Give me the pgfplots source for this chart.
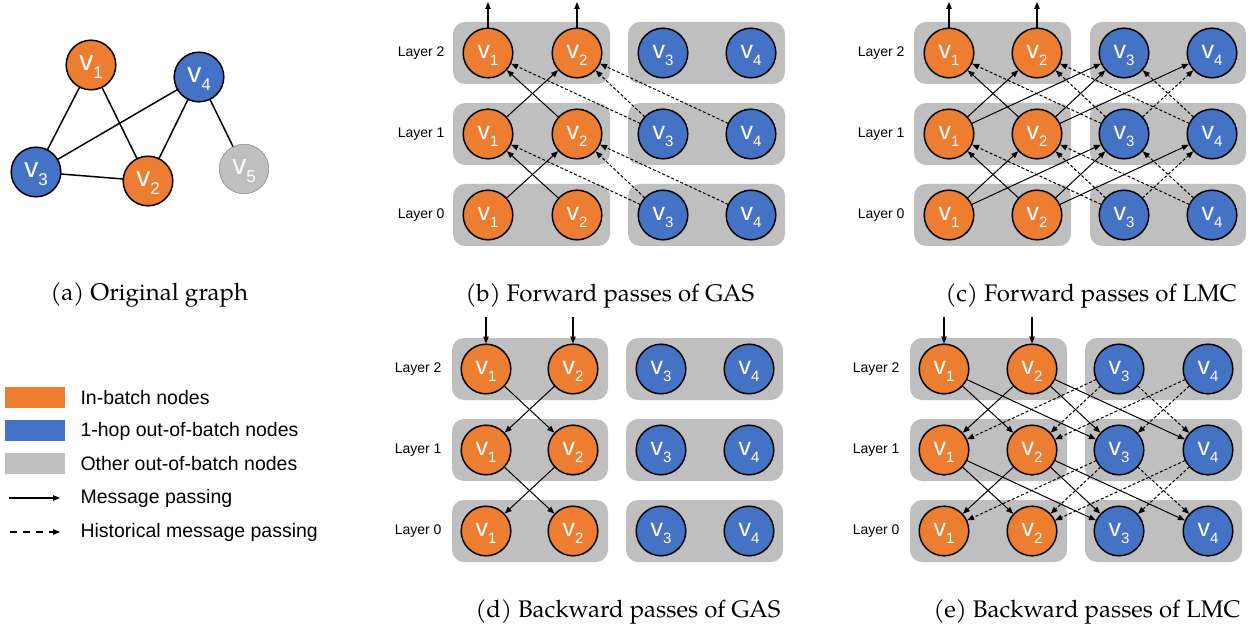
\documentclass[border=0pt]{standalone}
\usepackage{pgfplots}
\pgfplotsset{compat=1.18}
\usetikzlibrary{arrows.meta}
\usepackage{fontspec}
\setmainfont{Liberation Sans}
\newfontfamily\capfont{TeX Gyre Pagella}

\definecolor{inb}{HTML}{ED7D31}
\definecolor{hop}{HTML}{4472C4}
\definecolor{oth}{HTML}{BFBFBF}
\definecolor{grp}{HTML}{BFBFBF}

% node label: v with a subscript index
\newcommand{\vlab}[1]{{\fontsize{25}{25}\selectfont v}\raisebox{-7pt}{\fontsize{15}{15}\selectfont #1}}
\newcommand{\vlabA}[1]{{\fontsize{28}{28}\selectfont v}\raisebox{-8pt}{\fontsize{17}{17}\selectfont #1}}

% edges between two layers
\newcommand{\msg}[4]{\addplot[msgedge] coordinates {(#1,#2) (#3,#4)};}
\newcommand{\hist}[4]{\addplot[msgedge, hdash] coordinates {(#1,#2) (#3,#4)};}
\newcommand{\io}[4]{\addplot[ioarrow] coordinates {(#1,#2) (#3,#4)};}
\newcommand{\grp}[4]{\addplot[fill=grp, draw=none, mark=none, rounded corners=12pt] coordinates {(#1,#2) (#3,#2) (#3,#4) (#1,#4)} -- cycle;}

\tikzset{
  arrtip/.style={-{Triangle[length=7pt,width=5.5pt]}},
  msgedge/.style={black, mark=none, line width=1pt, shorten <=25pt, shorten >=25.5pt, arrtip},
  hdash/.style={dash pattern=on 3pt off 2pt},
  ioarrow/.style={black, mark=none, line width=1.1pt, arrtip},
  lyr/.style={anchor=east, font=\fontsize{14}{16}\selectfont},
  capt/.style={anchor=base west, font=\capfont\fontsize{24}{28}\selectfont},
  legtxt/.style={anchor=west, font=\fontsize{19.5}{22}\selectfont},
}
\pgfplotsset{
  circ/.style={only marks, mark=*, mark size=24.8pt,
    mark options={draw=black, fill=#1, line width=1.5pt},
    point meta=explicit symbolic,
    nodes near coords={\vlab{\pgfplotspointmeta}},
    nodes near coords align={anchor=center},
    every node near coord/.append style={text=white, inner sep=0pt, yshift=-2pt}},
}

\begin{document}
\begin{tikzpicture}
\begin{axis}[
  name=ax,
  at={(0,0)}, anchor=south west,
  scale only axis, width=1252pt, height=628pt,
  xmin=0, xmax=1252, ymin=0, ymax=628, y dir=reverse,
  hide axis, clip=false,
]
% ---------- (a) original graph ----------
\addplot[black, mark=none, line width=1.5pt] coordinates {(91,65) (36,172)};
\addplot[black, mark=none, line width=1.5pt] coordinates {(91,65) (148,181)};
\addplot[black, mark=none, line width=1.5pt] coordinates {(199,77) (36,172)};
\addplot[black, mark=none, line width=1.5pt] coordinates {(36,172) (148,181)};
\addplot[black, mark=none, line width=1.5pt] coordinates {(148,181) (199,77)};
\addplot[black, mark=none, line width=1.5pt] coordinates {(199,77) (244,169)};
\addplot[circ=inb, nodes near coords={\vlabA{\pgfplotspointmeta}}] table[meta=l, row sep=\\] {x y l\\ 91 65 1\\ 148 181 2\\};
\addplot[circ=hop, nodes near coords={\vlabA{\pgfplotspointmeta}}] table[meta=l, row sep=\\] {x y l\\ 36 172 3\\ 199 77 4\\};
\addplot[circ=oth, mark options={draw=black!55, fill=oth}, nodes near coords={\vlabA{\pgfplotspointmeta}}] table[meta=l, row sep=\\] {x y l\\ 244 169 5\\};

% ---------- legend ----------
\addplot[fill=inb, draw=none, mark=none] coordinates {(5,387) (65,387) (65,408) (5,408)} -- cycle;
\addplot[fill=hop, draw=none, mark=none] coordinates {(5,420) (65,420) (65,441) (5,441)} -- cycle;
\addplot[fill=oth, draw=none, mark=none] coordinates {(5,453) (65,453) (65,474) (5,474)} -- cycle;
\addplot[ioarrow] coordinates {(9,498) (60,498)};
\addplot[ioarrow, dash pattern=on 7pt off 6pt] coordinates {(10,532) (60,532)};
\node[legtxt] at (axis cs:77,398) {In-batch nodes};
\node[legtxt] at (axis cs:77,431) {1-hop out-of-batch nodes};
\node[legtxt] at (axis cs:77,464) {Other out-of-batch nodes};
\node[legtxt] at (axis cs:77,498) {Message passing};
\node[legtxt] at (axis cs:77,532) {Historical message passing};

% ---------- (b) forward GAS ----------
\grp{453}{22}{610}{84} \grp{628}{22}{785}{84}
\grp{453}{103}{610}{165} \grp{628}{103}{785}{165}
\grp{453}{184}{610}{246} \grp{628}{184}{785}{246}
\msg{488}{215}{577}{134} \msg{577}{215}{488}{134}
\hist{663}{215}{488}{134} \hist{663}{215}{577}{134} \hist{751}{215}{577}{134}
\msg{488}{134}{577}{53} \msg{577}{134}{488}{53}
\hist{663}{134}{488}{53} \hist{663}{134}{577}{53} \hist{751}{134}{577}{53}
\io{488}{28}{488}{2} \io{577}{28}{577}{2}
\addplot[circ=inb] table[meta=l, row sep=\\] {x y l\\ 488 53 1\\ 577 53 2\\ 488 134 1\\ 577 134 2\\ 488 215 1\\ 577 215 2\\};
\addplot[circ=hop] table[meta=l, row sep=\\] {x y l\\ 663 53 3\\ 751 53 4\\ 663 134 3\\ 751 134 4\\ 663 215 3\\ 751 215 4\\};
\node[lyr] at (axis cs:448,53) {Layer 2};
\node[lyr] at (axis cs:448,134) {Layer 1};
\node[lyr] at (axis cs:448,215) {Layer 0};

% ---------- (c) forward LMC ----------
\grp{914}{22}{1071}{84} \grp{1090}{22}{1246}{84}
\grp{914}{103}{1071}{165} \grp{1090}{103}{1246}{165}
\grp{914}{184}{1071}{246} \grp{1090}{184}{1246}{246}
\msg{949}{215}{1037}{134} \msg{1037}{215}{949}{134} \msg{949}{215}{1124}{134} \msg{1037}{215}{1124}{134} \msg{1037}{215}{1212}{134}
\hist{1124}{215}{949}{134} \hist{1124}{215}{1037}{134} \hist{1212}{215}{1037}{134} \hist{1212}{215}{1124}{134} \hist{1124}{215}{1212}{134}
\msg{949}{134}{1037}{53} \msg{1037}{134}{949}{53} \msg{949}{134}{1124}{53} \msg{1037}{134}{1124}{53} \msg{1037}{134}{1212}{53}
\hist{1124}{134}{949}{53} \hist{1124}{134}{1037}{53} \hist{1212}{134}{1037}{53} \hist{1212}{134}{1124}{53} \hist{1124}{134}{1212}{53}
\io{949}{28}{949}{2} \io{1037}{28}{1037}{2}
\addplot[circ=inb] table[meta=l, row sep=\\] {x y l\\ 949 53 1\\ 1037 53 2\\ 949 134 1\\ 1037 134 2\\ 949 215 1\\ 1037 215 2\\};
\addplot[circ=hop] table[meta=l, row sep=\\] {x y l\\ 1124 53 3\\ 1212 53 4\\ 1124 134 3\\ 1212 134 4\\ 1124 215 3\\ 1212 215 4\\};
\node[lyr] at (axis cs:908,53) {Layer 2};
\node[lyr] at (axis cs:908,134) {Layer 1};
\node[lyr] at (axis cs:908,215) {Layer 0};

% ---------- (d) backward GAS ----------
\grp{452}{338}{608}{400} \grp{626}{338}{783}{400}
\grp{452}{419}{608}{481} \grp{626}{419}{783}{481}
\grp{452}{500}{608}{562} \grp{626}{500}{783}{562}
\msg{486}{369}{573}{450} \msg{573}{369}{486}{450}
\msg{486}{450}{573}{531} \msg{573}{450}{486}{531}
\io{486}{317}{486}{343.5} \io{573}{317}{573}{343.5}
\addplot[circ=inb] table[meta=l, row sep=\\] {x y l\\ 486 369 1\\ 573 369 2\\ 486 450 1\\ 573 450 2\\ 486 531 1\\ 573 531 2\\};
\addplot[circ=hop] table[meta=l, row sep=\\] {x y l\\ 661 369 3\\ 749 369 4\\ 661 450 3\\ 749 450 4\\ 661 531 3\\ 749 531 4\\};
\node[lyr] at (axis cs:445,369) {Layer 2};
\node[lyr] at (axis cs:445,450) {Layer 1};
\node[lyr] at (axis cs:445,531) {Layer 0};

% ---------- (e) backward LMC ----------
\grp{910}{338}{1067}{400} \grp{1085}{338}{1242}{400}
\grp{910}{419}{1067}{481} \grp{1085}{419}{1242}{481}
\grp{910}{500}{1067}{562} \grp{1085}{500}{1242}{562}
\msg{944}{369}{1032}{450} \msg{944}{369}{1119}{450} \msg{1032}{369}{944}{450} \msg{1032}{369}{1119}{450} \msg{1032}{369}{1208}{450}
\hist{1119}{369}{944}{450} \hist{1119}{369}{1032}{450} \hist{1119}{369}{1208}{450} \hist{1208}{369}{1032}{450} \hist{1208}{369}{1119}{450}
\msg{944}{450}{1032}{531} \msg{944}{450}{1119}{531} \msg{1032}{450}{944}{531} \msg{1032}{450}{1119}{531} \msg{1032}{450}{1208}{531}
\hist{1119}{450}{944}{531} \hist{1119}{450}{1032}{531} \hist{1119}{450}{1208}{531} \hist{1208}{450}{1032}{531} \hist{1208}{450}{1119}{531}
\io{944}{317}{944}{343.5} \io{1032}{317}{1032}{343.5}
\addplot[circ=inb] table[meta=l, row sep=\\] {x y l\\ 944 369 1\\ 1032 369 2\\ 944 450 1\\ 1032 450 2\\ 944 531 1\\ 1032 531 2\\};
\addplot[circ=hop] table[meta=l, row sep=\\] {x y l\\ 1119 369 3\\ 1208 369 4\\ 1119 450 3\\ 1208 450 4\\ 1119 531 3\\ 1208 531 4\\};
\node[lyr] at (axis cs:903,369) {Layer 2};
\node[lyr] at (axis cs:903,450) {Layer 1};
\node[lyr] at (axis cs:903,531) {Layer 0};

% ---------- captions ----------
\node[capt] at (axis cs:47,300) {(a) Original graph};
\node[capt] at (axis cs:462,301) {(b) Forward passes of GAS};
\node[capt] at (axis cs:942,301) {(c) Forward passes of LMC};
\node[capt] at (axis cs:472,617) {(d) Backward passes of GAS};
\node[capt] at (axis cs:930,617) {(e) Backward passes of LMC};
\end{axis}
\pgfresetboundingbox
\path[use as bounding box] (ax.south west) rectangle (ax.north east);
\end{tikzpicture}
\end{document}
